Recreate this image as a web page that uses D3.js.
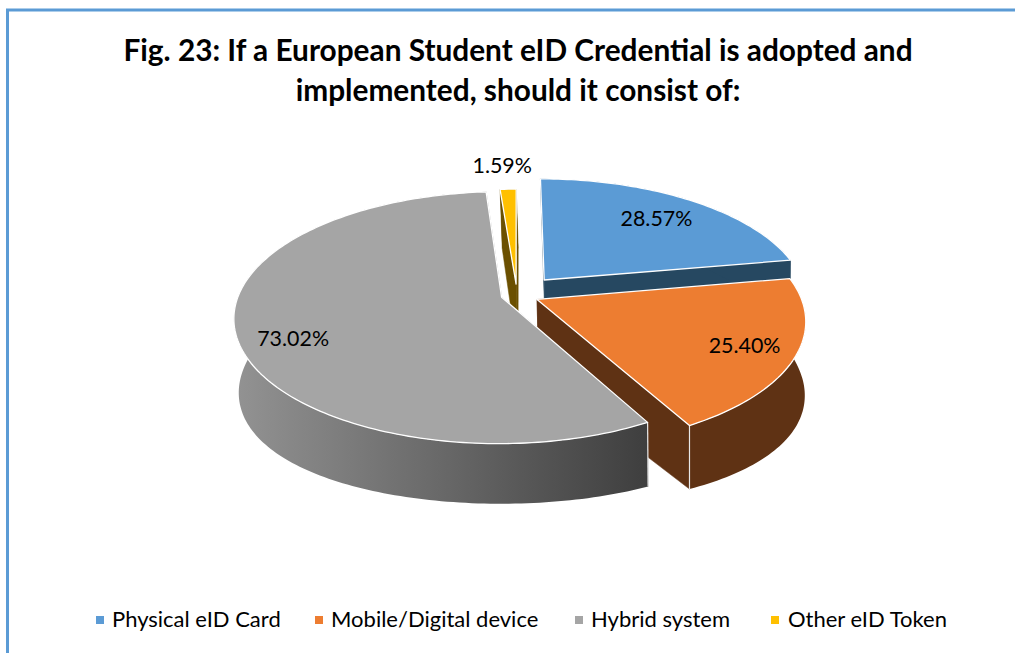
<!DOCTYPE html>
<html><head><meta charset="utf-8">
<script src="https://d3js.org/d3.v7.min.js"></script>
<style>html,body{margin:0;background:#fff}svg{display:block}text{font-family:Lato,"Noto Sans",sans-serif;fill:#000}</style>
</head><body><svg id="c" width="1015" height="653"></svg>
<script>
const categories = ["Physical eID Card","Mobile/Digital device","Hybrid system","Other eID Token"];
const values = [28.57,25.40,73.02,1.59];
const valueLabels = ["28.57%","25.40%","73.02%","1.59%"];
const titleLines = ["Fig. 23: If a European Student eID Credential is adopted and","implemented, should it consist of:"];

const topColors = ["#5b9bd5","#ed7d31","#a5a5a5","#ffc000"];
const wallColors = ["#264861","#5f3214","#636363","#6b5000"];
const explode = [0.164,0.084,0.061,0.09];
const radiusScale = [1,1,1,0.92];
const labelRadius = [0.755,0.815,0.81,1.20];
const labelAngleShift = [0,0,-0.105,-0.015];
const legendSwatchX = [96,315,575,771];
const legendTextX = [112,331,591,788];

const cx=517, cxb=519, cy=295, R=263, Ry=122, p=0.162, H=74, pb=0.05, qx=0.01;
function project(u,v,down){
  const d=1-p*v;
  return down
    ? [cxb+R*u/(d+qx), cy+(Ry*v+H)/(1-pb*v)]
    : [cx+R*u/d, cy+Ry*v/d];
}
const svg=d3.select("#c");
const defs=svg.append("defs");
const grad=defs.append("linearGradient").attr("id","hyb").attr("gradientUnits","userSpaceOnUse")
  .attr("x1",238).attr("x2",650).attr("y1",0).attr("y2",0);
[[0,"#929292"],[0.45,"#6c6c6c"],[1,"#3e3e3e"]].forEach(s=>grad.append("stop").attr("offset",s[0]).attr("stop-color",s[1]));

svg.append("path").attr("d","M7.5,653V10H1015").attr("fill","none").attr("stroke","#5b9bd5").attr("stroke-width",3);

svg.append("g").attr("text-anchor","middle").attr("font-weight",700).attr("font-size",29.8)
  .selectAll("text").data(titleLines).join("text")
  .attr("x",518).attr("y",(d,i)=>61+i*40).text(d=>d);

const arcs=d3.pie().sort(null).startAngle(0).endAngle(2*Math.PI)(values);
const line=d3.line();
const order=[3,0,1,2];
const g=svg.append("g");
function sliceGeom(i){
  const a=arcs[i], e=explode[i], m=(a.startAngle+a.endAngle)/2, rs=radiusScale[i];
  const ou=e*Math.sin(m), ov=-e*Math.cos(m);
  const n=Math.max(4,Math.ceil((a.endAngle-a.startAngle)/0.02));
  const ang=d3.scaleLinear().domain([0,n]).range([a.startAngle,a.endAngle]);
  const rim=d3.range(n+1).map(k=>[ou+rs*Math.sin(ang(k)),ov-rs*Math.cos(ang(k))]);
  return {ou,ov,rim,m};
}
order.forEach(i=>{
  const {ou,ov,rim}=sliceGeom(i);
  const fillWall=i===2?"url(#hyb)":wallColors[i];
  const first=rim[0], last=rim[rim.length-1];
  [first,last].forEach(pt=>{
    const poly=[project(ou,ov),project(pt[0],pt[1]),project(pt[0],pt[1],true),project(ou,ov,true)];
    g.append("path").attr("d",line(poly)+"Z").attr("fill",wallColors[i]).attr("stroke",wallColors[i]).attr("stroke-width",0.5);
  });
  const wallPoly=rim.map(r=>project(r[0],r[1])).concat(rim.slice().reverse().map(r=>project(r[0],r[1],true)));
  g.append("path").attr("d",line(wallPoly)+"Z").attr("fill",fillWall);
  [first,last].forEach(pt=>{
    if(pt[1]>0) g.append("path").attr("d",line([project(pt[0],pt[1]),project(pt[0],pt[1],true)]))
      .attr("stroke","#e8e8e8").attr("stroke-width",1.2).attr("fill","none");
  });
  const topPoly=[project(ou,ov)].concat(rim.map(r=>project(r[0],r[1])));
  g.append("path").attr("d",line(topPoly)+"Z").attr("fill",topColors[i])
    .attr("stroke","#fff").attr("stroke-width",1.3).attr("stroke-linejoin","round");
});
function labelPos(i){
  const s=sliceGeom(i), r=labelRadius[i], m=s.m+labelAngleShift[i];
  return project(s.ou+r*Math.sin(m),s.ov-r*Math.cos(m));
}
svg.append("g").attr("text-anchor","middle").attr("font-size",21.4)
  .selectAll("text").data(valueLabels).join("text")
  .attr("dominant-baseline","central")
  .attr("x",(d,i)=>labelPos(i)[0])
  .attr("y",(d,i)=>labelPos(i)[1])
  .text(d=>d);

const lg=svg.append("g");
lg.selectAll("rect").data(categories).join("rect")
  .attr("x",(d,i)=>legendSwatchX[i]).attr("y",616).attr("width",8).attr("height",8).attr("fill",(d,i)=>topColors[i]);
lg.selectAll("text").data(categories).join("text")
  .attr("x",(d,i)=>legendTextX[i]).attr("y",627).attr("font-size",22).text(d=>d);
</script></body></html>
